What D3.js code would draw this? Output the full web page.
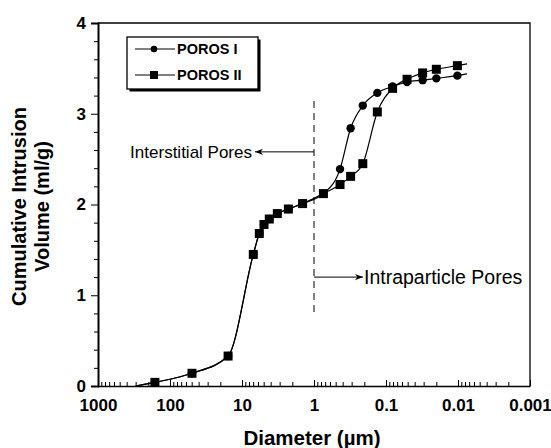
<!DOCTYPE html>
<html>
<head>
<meta charset="utf-8">
<script src="https://cdn.jsdelivr.net/npm/d3@7"></script>
<style>
  body { margin: 0; background: #fff; }
  svg { font-family: Arial, "Liberation Sans", Helvetica, sans-serif; }
</style>
</head>
<body>
<div class="main-chart"></div>
<script>
// pore diameter (µm); first and last entries are where the pen starts/ends (no marker)
const diameters = [300, 162, 49.5, 15.6, 6.97, 5.75, 4.95, 4.18, 3.23, 2.27, 1.44, 0.74,
  0.435, 0.31, 0.21, 0.132, 0.081, 0.051, 0.031, 0.020, 0.0102, 0.0075];
const porosI = [0, 0.04, 0.14, 0.33, 1.45, 1.68, 1.78, 1.84, 1.90, 1.95, 2.01, 2.12,
  2.39, 2.84, 3.09, 3.23, 3.30, 3.35, 3.37, 3.39, 3.42, 3.44];
const porosII = [0, 0.04, 0.14, 0.33, 1.45, 1.68, 1.78, 1.84, 1.90, 1.95, 2.01, 2.12,
  2.22, 2.31, 2.45, 3.02, 3.28, 3.38, 3.45, 3.49, 3.53, 3.55];
const seriesNames = [`POROS I`, `POROS II`];
const xTicks = [1000, 100, 10, 1, 0.1, 0.01, 0.001];
const xTickLabels = [`1000`, `100`, `10`, `1`, `0.1`, `0.01`, `0.001`];
const yTicks = [0, 1, 2, 3, 4];
const divider = 1;           // boundary diameter, µm
const dividerRange = [0.78, 3.14];

const W = 551, H = 448;
const margin = {top: 23, right: 21, bottom: 62, left: 98},
  width = W - margin.left - margin.right,
  height = H - margin.top - margin.bottom;

const x = d3.scaleLog().domain([1000, 0.001]).range([0, width]);
const y = d3.scaleLinear().domain([0, 4]).range([height, 0]);

const svg = d3.select(`.main-chart`).append(`svg`)
  .attr(`width`, W).attr(`height`, H)
  .append(`g`)
  .attr(`transform`, `translate(` + margin.left + `,` + margin.top + `)`);

// frame (top / right)
svg.append(`path`)
  .attr(`d`, `M0,0H${width}V${height}`)
  .attr(`fill`, `none`).attr(`stroke`, `#000`).attr(`stroke-width`, 1.3);

// y axis with minor ticks outside
const yAxis = svg.append(`g`)
  .call(d3.axisLeft(y).tickValues(yTicks).tickFormat(d3.format(`d`)).tickSize(7).tickPadding(5));
yAxis.select(`.domain`).attr(`stroke-width`, 2);
yAxis.selectAll(`text`).attr(`font-size`, 17).attr(`font-weight`, `bold`).attr(`fill`, `#000`);
svg.append(`g`)
  .call(d3.axisLeft(y).tickValues(d3.range(0, 4.01, 0.2).filter(v => Math.abs(v - Math.round(v)) > 0.01)).tickSize(4).tickFormat(``))
  .select(`.domain`).remove();

// x axis: ticks point up into the plot
const minor = [];
xTicks.slice(0, -1).forEach(t => { for (let k = 2; k <= 9; k++) minor.push(t / 10 * k); });
const xAxis = svg.append(`g`)
  .attr(`transform`, `translate(0,` + height + `)`)
  .call(d3.axisBottom(x).tickValues(xTicks).tickFormat((d, i) => xTickLabels[i]).tickSizeInner(-6).tickSizeOuter(0).tickPadding(13));
xAxis.select(`.domain`).attr(`stroke-width`, 1.6);
xAxis.selectAll(`text`).attr(`font-size`, 17).attr(`font-weight`, `bold`).attr(`fill`, `#000`);
svg.append(`g`)
  .attr(`transform`, `translate(0,` + height + `)`)
  .call(d3.axisBottom(x).tickValues(minor).tickSizeInner(-4).tickSizeOuter(0).tickFormat(``))
  .select(`.domain`).remove();

// axis titles
svg.append(`text`)
  .attr(`x`, width / 2 - 2).attr(`y`, height + 59)
  .attr(`text-anchor`, `middle`).attr(`font-size`, 20.5).attr(`font-weight`, `bold`)
  .text(`Diameter (µm)`);
const yt = svg.append(`text`)
  .attr(`transform`, `translate(-72,` + (height / 2 + 2) + `) rotate(-90)`)
  .attr(`text-anchor`, `middle`).attr(`font-size`, 20).attr(`font-weight`, `bold`);
yt.append(`tspan`).attr(`x`, 0).attr(`dy`, 0).text(`Cumulative Intrusion`);
yt.append(`tspan`).attr(`x`, 0).attr(`dy`, 23).text(`Volume (ml/g)`);

// dashed divider and arrows
svg.append(`line`)
  .attr(`x1`, x(divider)).attr(`x2`, x(divider))
  .attr(`y1`, y(dividerRange[1])).attr(`y2`, y(dividerRange[0]))
  .attr(`stroke`, `#000`).attr(`stroke-dasharray`, `7,5`);

svg.append(`defs`).append(`marker`)
  .attr(`id`, `arrow`).attr(`viewBox`, `0 0 10 10`).attr(`refX`, 10).attr(`refY`, 5)
  .attr(`markerWidth`, 10).attr(`markerHeight`, 8).attr(`orient`, `auto`)
  .attr(`markerUnits`, `userSpaceOnUse`)
  .append(`path`).attr(`d`, `M0,1L10,5L0,9L3,5Z`).attr(`fill`, `#000`);

const yInter = y(2.58), yIntra = y(1.2);
svg.append(`line`)
  .attr(`x1`, x(divider)).attr(`x2`, x(divider) - 59).attr(`y1`, yInter).attr(`y2`, yInter)
  .attr(`stroke`, `#000`).attr(`marker-end`, `url(#arrow)`);
svg.append(`text`)
  .attr(`x`, x(divider) - 62).attr(`y`, yInter).attr(`dy`, `0.35em`)
  .attr(`text-anchor`, `end`).attr(`font-size`, 17)
  .text(`Interstitial Pores`);
svg.append(`line`)
  .attr(`x1`, x(divider)).attr(`x2`, x(divider) + 49).attr(`y1`, yIntra).attr(`y2`, yIntra)
  .attr(`stroke`, `#000`).attr(`marker-end`, `url(#arrow)`);
svg.append(`text`)
  .attr(`x`, x(divider) + 50).attr(`y`, yIntra).attr(`dy`, `0.35em`)
  .attr(`font-size`, 19.5)
  .text(`Intraparticle Pores`);

// curves
const line = d3.line()
  .x(d => x(d.d)).y(d => y(d.v))
  .curve(d3.curveMonotoneX);

const series = [porosI, porosII].map((vals, i) => ({
  name: seriesNames[i],
  points: diameters.map((d, j) => ({d: d, v: vals[j], mark: j > 0 && j < diameters.length - 1}))
}));

series.forEach(s => {
  svg.append(`path`).datum(s.points)
    .attr(`d`, line).attr(`fill`, `none`).attr(`stroke`, `#000`).attr(`stroke-width`, 1.2);
});

// POROS I circles, POROS II squares drawn on top
svg.selectAll(`.dot`)
  .data(series[0].points.filter(p => p.mark))
  .enter().append(`circle`)
  .attr(`class`, `dot`)
  .attr(`cx`, d => x(d.d)).attr(`cy`, d => y(d.v)).attr(`r`, 4.2);
svg.selectAll(`.sq`)
  .data(series[1].points.filter(p => p.mark))
  .enter().append(`rect`)
  .attr(`class`, `sq`)
  .attr(`x`, d => x(d.d) - 4.5).attr(`y`, d => y(d.v) - 4.5)
  .attr(`width`, 9).attr(`height`, 9);

// legend
const lg = svg.append(`g`).attr(`transform`, `translate(29,14)`);
lg.append(`rect`).attr(`x`, 2.5).attr(`y`, 2.5).attr(`width`, 131).attr(`height`, 52).attr(`fill`, `#000`);
lg.append(`rect`).attr(`width`, 131).attr(`height`, 52).attr(`fill`, `#fff`).attr(`stroke`, `#000`).attr(`stroke-width`, 1.3);
seriesNames.forEach((name, i) => {
  const row = lg.append(`g`).attr(`transform`, `translate(0,` + (12 + i * 26) + `)`);
  row.append(`line`).attr(`x1`, 8).attr(`x2`, 48).attr(`stroke`, `#000`);
  if (i === 0) row.append(`circle`).attr(`cx`, 27).attr(`r`, 3.3);
  else row.append(`rect`).attr(`x`, 23).attr(`y`, -4).attr(`width`, 8).attr(`height`, 8);
  row.append(`text`).attr(`x`, 50).attr(`dy`, `0.36em`)
    .attr(`font-size`, 14.5).attr(`font-weight`, `bold`).text(name);
});
</script>
</body>
</html>
